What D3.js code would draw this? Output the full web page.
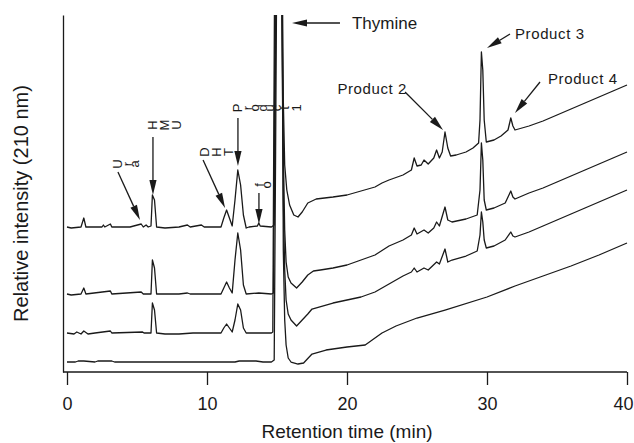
<!DOCTYPE html>
<html>
<head>
<meta charset="utf-8">
<script src="https://cdn.jsdelivr.net/npm/d3@7"></script>
<style>
  body { margin: 0; background: #fff; }
  text { font-family: Arial, "Liberation Sans", Helvetica, sans-serif; fill: #1a1a1a; }
</style>
</head>
<body>
<svg id="chart" width="634" height="443"></svg>
<script>
// retention time (min), intensity (arbitrary units, offset traces)
const traceA = [
  [0,145],[0.3,144],[1.0,145],[1.2,154],[1.35,145],[2.5,145],[2.6,147],[2.7,145],[3.1,148],[3.2,145],
  [4.5,145],[5.3,148],[5.45,145],[5.65,147],[5.8,145],[6.0,146],[6.1,177],[6.25,172],[6.4,145],
  [7.0,144],[8.0,145],[8.6,147],[8.8,145],[9.6,147],[9.8,145],[11.0,145],[11.2,154],[11.4,162],
  [11.6,154],[11.8,146],[12.0,172],[12.2,202],[12.4,187],[12.6,157],[12.8,144],[13.0,145],[13.6,146],
  [13.7,149],[13.8,146],[14.6,145],[14.8,147],[14.85,220],[14.95,450],[15.15,700],[15.35,450],
  [15.45,272],[15.55,207],[15.7,182],[15.9,167],[16.2,157],[16.5,155],[16.8,160],[17.2,169],[17.8,173],
  [19,175],[20,177],[21,181],[22,185],[22.5,189],[23,192],[24,197],[24.6,202],[24.8,214],[25.0,206],
  [25.3,207],[25.5,212],[25.8,208],[26.2,214],[26.4,222],[26.6,214],[26.8,220],[27.0,240],[27.2,224],
  [27.4,216],[27.8,217],[28.5,220],[29.0,224],[29.4,229],[29.5,252],[29.6,320],[29.7,302],[29.8,252],
  [29.95,230],[30.5,232],[31.0,236],[31.5,242],[31.7,254],[31.85,246],[32.0,242],[33,246],[34,251],
  [35,257],[36,263],[37,269],[38,275],[39,281],[40,287]
];
const traceB = [
  [0,78],[0.3,77],[1.0,78],[1.2,84],[1.35,78],[3.1,81],[3.2,78],[5.3,80],[5.45,78],[6.0,78],[6.1,112],
  [6.25,104],[6.4,78],[7.0,78],[8.0,78],[8.6,79],[8.8,78],[10,78],[11.0,78],[11.2,84],[11.4,90],
  [11.6,84],[11.8,79],[12.0,112],[12.2,139],[12.4,122],[12.6,87],[12.8,78],[13.7,79],[14.6,78],
  [14.75,79],[14.8,200],[14.9,450],[15.1,700],[15.3,450],[15.45,222],[15.55,142],[15.65,110],
  [15.8,95],[16.0,89],[16.4,84],[16.8,90],[17.2,97],[17.6,101],[18.1,102],[19,104],[20,107],
  [20.8,111],[22,117],[23,126],[24,132],[24.6,137],[24.8,144],[25.0,138],[25.5,142],[25.8,139],
  [26.2,144],[26.4,150],[26.6,146],[27.0,165],[27.2,152],[27.5,150],[28.5,153],[29.3,157],[29.5,182],
  [29.6,229],[29.7,212],[29.8,172],[29.95,162],[30.5,164],[31.3,169],[31.7,181],[31.85,175],[32.0,173],
  [33,179],[34,184],[35,190],[36,196],[37,202],[38,208],[39,214],[40,220]
];
const traceC = [
  [0,39],[0.5,38],[0.7,40],[1.0,38],[1.2,41],[1.5,38],[2,39],[3.1,41],[3.2,39],[5.4,40],[5.5,39],
  [6.0,39],[6.1,69],[6.25,62],[6.4,39],[7.0,38],[8.0,38],[9.0,39],[11.0,39],[11.2,44],[11.4,48],
  [11.6,44],[11.8,40],[12.0,52],[12.2,68],[12.4,62],[12.6,44],[12.8,39],[14.6,39],[14.7,40],
  [14.75,180],[14.85,450],[15.05,700],[15.3,450],[15.45,172],[15.55,102],[15.65,72],[15.8,58],
  [16.0,52],[16.4,46],[16.8,52],[17.2,58],[17.5,63],[18,65],[19,69],[20,72],[21,75],[22,80],[23,88],
  [24,96],[24.6,100],[24.8,104],[25.0,100],[25.5,104],[25.8,102],[26.4,110],[26.6,108],[27.0,123],
  [27.2,110],[27.5,112],[28.5,116],[29.3,121],[29.5,137],[29.6,160],[29.7,150],[29.8,132],[29.95,124],
  [30.5,126],[31.3,132],[31.7,140],[31.85,136],[32,135],[33,140],[34,146],[35,152],[36,158],[37,164],
  [38,170],[39,176],[40,182]
];
const traceD = [
  [0,10],[0.6,10],[0.8,11],[1.2,11],[2.0,10],[2.2,11],[3.2,11],[3.4,10],[6,10],[10,10],[12.0,10],
  [12.3,11],[13.0,11],[13.5,11],[14.0,10],[14.6,10],[14.8,12],[14.9,220],[15.0,450],[15.2,700],
  [15.35,450],[15.45,122],[15.55,52],[15.65,27],[15.8,14],[16.0,10],[16.5,8],[16.9,9],[17.5,18],
  [18.5,22],[20,25],[21.3,27],[21.8,32],[22.5,39],[23.5,46],[25,54],[27,62],[30,75],[32,86],
  [34,96],[36,106],[38,117],[40,129]
];
const traces = [traceA, traceB, traceC, traceD];
const xTicks = [0, 10, 20, 30, 40];

// peak labels: arrow tip at (t, v), offsets in px for arrow tail and label
const peakLabels = [
  { text: "Ura", t: 5.21, v: 152, tail: [-22, -48], lab: [-28, -56], glyphs: true },
  { text: "HMU", t: 6.14, v: 177, tail: [0, -58], lab: [-6, -70], glyphs: true },
  { text: "DHT", t: 11.29, v: 164, tail: [-22, -48], lab: [-27, -56], glyphs: true },
  { text: "Product 1", t: 12.21, v: 206, tail: [0, -48], lab: [-6, -58], glyphs: true },
  { text: "fo", t: 13.71, v: 148, tail: [0, -31], lab: [-4, -39], glyphs: true },
  { text: "Thymine", t: 16.07, v: 349, tail: [48, 0], lab: [60, 0], size: 17, anchor: "start" },
  { text: "Product 2", t: 26.86, v: 242, tail: [-38, -38], lab: [-36, -42], size: 15, anchor: "end" },
  { text: "Product 3", t: 30.0, v: 324, tail: [23, -14], lab: [28, -15], size: 15, anchor: "start" },
  { text: "Product 4", t: 32.0, v: 259, tail: [25, -31], lab: [33, -35], size: 15, anchor: "start" }
];

const svg = d3.select("#chart");
const x = d3.scaleLinear().domain([0, 40]).range([67, 627]);
const y = d3.scaleLinear().domain([0, 357]).range([372, 15]);
const ink = "#1a1a1a";

svg.append("clipPath").attr("id", "plot")
  .append("rect").attr("x", 63).attr("y", y(357)).attr("width", 634 - 63).attr("height", y(0) - y(357));

// x axis
const gx = svg.append("g")
  .attr("transform", `translate(0,${y(0)})`)
  .call(d3.axisBottom(x).tickValues(xTicks).tickSize(13).tickSizeOuter(0).tickPadding(12));
gx.select(".domain").attr("d", `M${x(0) - 4},0H${x(40)}`);
gx.selectAll("path,line").attr("stroke", ink).attr("stroke-width", 1.3);
gx.selectAll("text").style("font-size", "18px").attr("fill", ink)
  .attr("dx", d => d === 40 ? -4 : 0);

// y axis (no ticks)
const gy = svg.append("g")
  .attr("transform", `translate(${x(0) - 4},0)`)
  .call(d3.axisLeft(y).tickValues([]).tickSizeOuter(0));
gy.select(".domain").attr("stroke", ink).attr("stroke-width", 1.3);

svg.append("text")
  .attr("x", (x(0) + x(40)) / 2).attr("y", 438)
  .attr("text-anchor", "middle").style("font-size", "19px")
  .text("Retention time (min)");

svg.append("text")
  .attr("transform", `translate(28,${(y(0) + y(357)) / 2 + 10}) rotate(-90)`)
  .attr("text-anchor", "middle").style("font-size", "20px")
  .text("Relative intensity (210 nm)");

// chromatograms
const line = d3.line().x(d => x(d[0])).y(d => y(d[1]));
svg.append("g").attr("clip-path", "url(#plot)")
  .selectAll("path").data(traces).join("path")
  .attr("d", line)
  .attr("fill", "none").attr("stroke", ink).attr("stroke-width", 1.3)
  .attr("stroke-linejoin", "round");

// annotations
const ann = svg.append("g");
function arrow(x1, y1, x2, y2) {
  const a = Math.atan2(y2 - y1, x2 - x1), len = 15, w = 3.6;
  const bx = x2 - len * Math.cos(a), by = y2 - len * Math.sin(a);
  ann.append("line").attr("x1", x1).attr("y1", y1).attr("x2", bx).attr("y2", by)
    .attr("stroke", ink).attr("stroke-width", 1.3);
  ann.append("path")
    .attr("d", `M${x2},${y2}L${bx + w * Math.sin(a)},${by - w * Math.cos(a)}L${bx - w * Math.sin(a)},${by + w * Math.cos(a)}Z`)
    .attr("fill", ink);
}

peakLabels.forEach(p => {
  const tx = x(p.t), ty = y(p.v);
  arrow(tx + p.tail[0], ty + p.tail[1], tx, ty);
  const lx = tx + p.lab[0], ly = ty + p.lab[1];
  if (p.glyphs) {
    // labels whose glyphs are turned sideways, as in the original figure
    let cx = lx;
    p.text.split("").forEach(ch => {
      const adv = ch === " " ? 3 : /[A-Z]/.test(ch) ? 12 : /[dtfbl0-9]/.test(ch) ? 8.5 : 7;
      if (ch !== " ") {
        ann.append("text")
          .attr("transform", `translate(${cx + adv / 2},${ly}) rotate(-90)`)
          .attr("text-anchor", "middle").attr("dominant-baseline", "central")
          .style("font-size", "13px").text(ch);
      }
      cx += adv;
    });
  } else {
    ann.append("text").attr("x", lx).attr("y", ly)
      .attr("text-anchor", p.anchor).attr("dominant-baseline", "central")
      .style("font-size", p.size + "px").style("letter-spacing", p.size < 16 ? "0.6px" : "0")
      .text(p.text);
  }
});
</script>
</body>
</html>
